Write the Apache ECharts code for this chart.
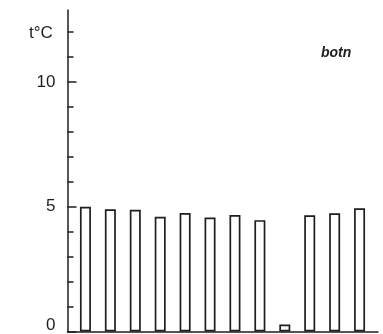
<!DOCTYPE html>
<html><head><meta charset="utf-8">
<script src="https://cdn.jsdelivr.net/npm/echarts@6/dist/echarts.min.js"></script>
<style>html,body{margin:0;padding:0;background:#fff}#c{width:383px;height:334px}</style>
</head><body><div id="c"></div>
<script>
const months = ['Jan','Feb','Mar','Apr','May','Jun','Jul','Aug','Sep','Oct','Nov','Dec'];
const temps = [5.0, 4.9, 4.88, 4.6, 4.75, 4.57, 4.67, 4.46, 0.28, 4.66, 4.74, 4.94];
const majorTicks = [0, 5, 10];
const minorTicks = [1, 2, 3, 4, 6, 7, 8, 9, 11, 12];
const yName = 't°C';
const station = 'botn';

const ink = '#1e1e1e';
const chart = echarts.init(document.getElementById('c'), null, {renderer: 'canvas'});
chart.setOption({
  animation: false,
  backgroundColor: '#fff',
  title: {text: yName, left: 24, top: 20, textStyle: {fontFamily: 'Liberation Sans', fontSize: 17, fontWeight: 'normal', color: ink}},
  graphic: [{type: 'text', left: 321, top: 46, style: {text: station, font: 'italic bold 14px "Liberation Sans"', fill: ink}}],
  grid: {left: 67.5, right: 5, top: 10, bottom: 2},
  xAxis: {
    type: 'value', min: 0.28, max: 12.74,
    axisLine: {lineStyle: {color: ink, width: 1.5}},
    axisTick: {show: false}, axisLabel: {show: false}, splitLine: {show: false}
  },
  yAxis: [{
    type: 'value', min: 0, max: 12.88, position: 'left',
    axisLine: {show: true, lineStyle: {color: ink, width: 1.5}},
    axisTick: {show: true, inside: true, length: 9, customValues: majorTicks, lineStyle: {color: ink, width: 1.5}},
    axisLabel: {customValues: majorTicks, margin: 12, fontFamily: 'Liberation Sans', fontSize: 17, color: ink,
      formatter: v => v === 0 ? '{z|0}' : String(v),
      rich: {z: {fontFamily: 'Liberation Sans', fontSize: 17, color: ink, padding: [0, 0, 12, 0]}}},
    splitLine: {show: false}
  }, {
    type: 'value', min: 0, max: 12.88, position: 'left', offset: 0,
    axisLine: {show: false},
    axisTick: {show: true, inside: true, length: 6, customValues: minorTicks, lineStyle: {color: ink, width: 1.5}},
    axisLabel: {show: false}, splitLine: {show: false}
  }],
  series: [{
    type: 'bar', barWidth: 11, yAxisIndex: 0,
    data: temps.map((t, i) => [i + 1, t]),
    itemStyle: {color: '#fff', borderColor: ink, borderWidth: 1.7}
  }]
});
</script></body></html>
